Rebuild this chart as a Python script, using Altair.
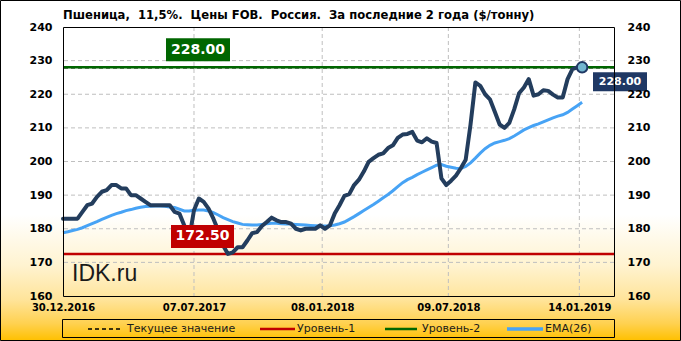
import altair as alt
import pandas as pd

# ---------------- data ----------------
title_text = "Пшеница,\u00a0 11,5%.\u00a0 Цены FOB.\u00a0 Россия.\u00a0 За последние 2 года ($/тонну)"

start_date = "2016-12-30"
n_weeks = 108

price = [
    183, 183, 183, 183, 185, 187, 187.5, 189.5, 191, 191.5,
    193, 193, 192, 192, 190, 190, 189, 188, 187, 187,
    187, 187, 187, 185, 184.5, 181, 177, 185.5, 189, 188,
    186, 183, 179.5, 175, 172.5, 173, 174.5, 174.5, 176.5, 178.7,
    179, 180.8, 182, 183.3, 182.5, 182, 182, 181.5, 180, 179.5,
    180, 180, 180, 181, 180, 181, 184.5, 187, 189.8, 190.3,
    193, 194.6, 197, 199.9, 201, 202, 202.4, 204, 204.8, 207,
    208, 208.2, 208.8, 206.2, 205.7, 206.9, 205.9, 205.5, 195, 193,
    194.3, 195.8, 198, 200.5, 211, 223.5, 222.5, 220, 218.5, 214.8,
    211, 210, 211.5, 215.5, 220.3, 222, 224.5, 219.6, 220, 221.2,
    221, 219.9, 219, 219, 224.5, 227.5, 228, 228,
]

ema = [
    178.8, 179.1, 179.5, 179.8, 180.3, 180.9, 181.5, 182.1, 182.8, 183.4,
    184.0, 184.5, 184.9, 185.4, 185.7, 186.1, 186.4, 186.6, 186.7, 186.8,
    186.8, 186.7, 186.5, 186.3, 185.8, 185.3, 185.3, 185.5, 185.6, 185.6,
    185.3, 184.8, 184.1, 183.3, 182.7, 182.1, 181.7, 181.3, 181.2, 181.1,
    181.1, 181.3, 181.5, 181.6, 181.6, 181.5, 181.4, 181.4, 181.3, 181.2,
    181.1, 181.0, 180.9, 180.8, 180.8, 180.9, 181.1, 181.5, 182.0, 182.8,
    183.6, 184.5, 185.4, 186.3, 187.2, 188.2, 189.2, 190.2, 191.3, 192.5,
    193.7, 194.6, 195.3, 196.1, 196.8, 197.5, 198.2, 198.9, 199.1, 198.6,
    198.3, 198.0, 197.9, 198.5, 199.6, 201.0, 202.5, 203.8, 204.8, 205.5,
    205.9, 206.3, 206.8, 207.6, 208.5, 209.4, 210.1, 210.7, 211.2, 211.8,
    212.4, 213.0, 213.5, 213.9, 214.6, 215.6, 216.6, 217.6,
]

series_names = ["Текущее значение", "Уровень-1", "Уровень-2", "EMA(26)"]
series_colors = ["#000000", "#C00000", "#006600", "#47A3F5"]
level_values = [228.0, 172.5, 228.0]          # current, level-1, level-2

y_ticks = [160, 170, 180, 190, 200, 210, 220, 230, 240]
x_ticks = [(2016, 12, 30), (2017, 7, 7), (2018, 1, 8), (2018, 7, 9), (2019, 1, 14)]
x_domain = [(2016, 12, 30), (2019, 3, 5)]

# ---------------- layout (pixels, relative to plot area) ----------------
W, H = 551, 269
FONT = "DejaVu Sans"
legend_sym_x = [(25, 57), (197, 232), (322, 354), (444, 480)]
legend_lab_x = [64, 234, 359, 482]
legend_sym_w = [1.3, 2.5, 2.5, 3.5]
legend_sym_dash = [[4, 3], [1, 0], [1, 0], [1, 0]]
legend_y = 302

# ---------------- tables ----------------
dates = pd.date_range(start_date, periods=n_weeks, freq="7D")
df = pd.DataFrame({"date": dates, "price": price, "ema": ema})
df_last = df.iloc[[-1]]
df_levels = pd.DataFrame({"series": series_names[:3], "v": level_values})
df_lvl1 = df_levels[df_levels.series == "Уровень-1"]
df_lvl2 = df_levels[df_levels.series == "Уровень-2"]
df_ygrid = pd.DataFrame({"v": y_ticks[1:-1]})
df_xgrid = pd.DataFrame({"d": [pd.Timestamp(*t) for t in x_ticks[1:]]})
one = pd.DataFrame({"a": [0]})


def dt(t):
    return alt.DateTime(year=t[0], month=t[1], date=t[2])


yscale = alt.Scale(domain=[160, 240], nice=False, zero=False)
xscale = alt.Scale(domain=[dt(t) for t in x_domain], nice=False)

gradient = alt.Gradient(
    gradient="linear", x1=0, x2=0, y1=0, y2=1,
    stops=[
        alt.GradientStop(offset=0, color="#FFFFFF"),
        alt.GradientStop(offset=0.63, color="#FFFFFF"),
        alt.GradientStop(offset=0.78, color="#FFF3D0"),
        alt.GradientStop(offset=0.88, color="#FFE49A"),
        alt.GradientStop(offset=0.95, color="#FFD150"),
        alt.GradientStop(offset=1, color="#FFC000"),
    ],
)

bg = alt.Chart(one).mark_rect(fill=gradient, stroke="black", strokeWidth=1).encode(
    x=alt.value(-62.5), x2=alt.value(617.5), y=alt.value(-26.5), y2=alt.value(313.5)
)

ygrid = alt.Chart(df_ygrid).mark_rule(color="#BFBFBF", strokeDash=[4, 3], strokeWidth=1).encode(
    y=alt.Y("v:Q", scale=yscale, axis=None)
)
xgrid = alt.Chart(df_xgrid).mark_rule(color="#BFBFBF", strokeDash=[4, 3], strokeWidth=1).encode(
    x=alt.X("d:T", scale=xscale, axis=None)
)

levels = alt.Chart(df_levels).mark_rule(strokeWidth=2.5).encode(
    y=alt.Y("v:Q", scale=yscale, axis=None),
    color=alt.Color("series:N", scale=alt.Scale(domain=series_names, range=series_colors), legend=None),
    strokeDash=alt.StrokeDash("series:N", scale=alt.Scale(domain=series_names, range=legend_sym_dash), legend=None),
)

axis_common = dict(
    ticks=False, domain=False, grid=False, labelFont=FONT,
    labelFontWeight="bold", labelColor="black", title=None, zindex=1,
)

ema_line = alt.Chart(df).mark_line(color=series_colors[3], strokeWidth=3).encode(
    x=alt.X("date:T", scale=xscale, axis=None),
    y=alt.Y("ema:Q", scale=yscale,
            axis=alt.Axis(orient="right", values=y_ticks, labelPadding=13, labelFontSize=11, **axis_common)),
)

price_line = alt.Chart(df).mark_line(color="#233D5D", strokeWidth=4, strokeJoin="round", strokeCap="round").encode(
    x=alt.X("date:T", scale=xscale,
            axis=alt.Axis(values=[dt(t) for t in x_ticks], format="%d.%m.%Y", labelPadding=6,
                          labelFontSize=10, labelFlush=False, labelOverlap=False, **axis_common)),
    y=alt.Y("price:Q", scale=yscale,
            axis=alt.Axis(orient="left", values=y_ticks, labelPadding=11, labelFontSize=11, **axis_common)),
)

marker = alt.Chart(df_last).mark_point(filled=True, size=110, fill="#72B6CF", stroke="#1F3864",
                                       strokeWidth=2, opacity=1).encode(
    x=alt.X("date:T", scale=xscale, axis=None),
    y=alt.Y("price:Q", scale=yscale, axis=None),
)


def level_box(dfl, color, x0, x1):
    box = alt.Chart(dfl).mark_rect(color=color, yOffset=-29, y2Offset=-6).encode(
        x=alt.value(x0), x2=alt.value(x1),
        y=alt.Y("v:Q", scale=yscale, axis=None), y2=alt.Y2("v:Q"),
    )
    txt = alt.Chart(dfl).mark_text(color="white", font=FONT, fontSize=14, fontWeight="bold",
                                   dy=-17.5, align="center", baseline="middle").encode(
        x=alt.value((x0 + x1) / 2),
        y=alt.Y("v:Q", scale=yscale, axis=None),
        text=alt.Text("v:Q", format=".2f"),
    )
    return box + txt


box2 = level_box(df_lvl2, series_colors[2], 103, 167)
box1 = level_box(df_lvl1, series_colors[1], 108, 171)

cur_box = alt.Chart(df_last).mark_rect(color="#1F3864", yOffset=5, y2Offset=24).encode(
    x=alt.value(530), x2=alt.value(584),
    y=alt.Y("price:Q", scale=yscale, axis=None), y2=alt.Y2("price:Q"),
)
cur_txt = alt.Chart(df_last).mark_text(color="white", font=FONT, fontSize=11, fontWeight="bold",
                                       dy=14.5, align="center", baseline="middle").encode(
    x=alt.value(557),
    y=alt.Y("price:Q", scale=yscale, axis=None),
    text=alt.Text("price:Q", format=".2f"),
)

brand = alt.Chart(one).mark_text(text="IDK.ru", font="Liberation Sans", fontSize=23, color="#1a1a1a",
                                 align="left", baseline="alphabetic").encode(
    x=alt.value(9), y=alt.value(254)
)

title = alt.Chart(one).mark_text(text=title_text, font=FONT, fontSize=11.6, fontWeight="bold",
                                 color="black", align="left", baseline="alphabetic").encode(
    x=alt.value(0), y=alt.value(-8)
)

plot_frame = alt.Chart(one).mark_rect(fill="transparent", stroke="black", strokeWidth=1).encode(
    x=alt.value(0.5), x2=alt.value(551.5), y=alt.value(0.5), y2=alt.value(269.5)
)
legend_frame = alt.Chart(one).mark_rect(fill="transparent", stroke="black", strokeWidth=1).encode(
    x=alt.value(-0.5), x2=alt.value(551.5), y=alt.value(292.5), y2=alt.value(310.5)
)

legend_layers = []
for name, col, (sx0, sx1), lx, sw, dash in zip(series_names, series_colors, legend_sym_x,
                                               legend_lab_x, legend_sym_w, legend_sym_dash):
    legend_layers.append(
        alt.Chart(one).mark_rule(color=col, strokeWidth=sw, strokeDash=dash).encode(
            x=alt.value(sx0), x2=alt.value(sx1), y=alt.value(legend_y)
        )
    )
    legend_layers.append(
        alt.Chart(one).mark_text(text=name, font=FONT, fontSize=11, color="#1a1a1a",
                                 align="left", baseline="middle").encode(
            x=alt.value(lx), y=alt.value(legend_y)
        )
    )

chart = alt.layer(
    bg, ygrid, xgrid, levels, ema_line, price_line, marker,
    box2, box1, cur_box, cur_txt, brand, title, plot_frame, legend_frame, *legend_layers,
).resolve_axis(y="independent", x="independent").properties(
    width=W, height=H,
    autosize=alt.AutoSizeParams(type="none"),
    padding={"left": 63, "top": 27, "right": 67, "bottom": 45},
).configure_view(stroke="transparent")

chart.save("out.html", embed_options={"renderer": "svg", "actions": False})
